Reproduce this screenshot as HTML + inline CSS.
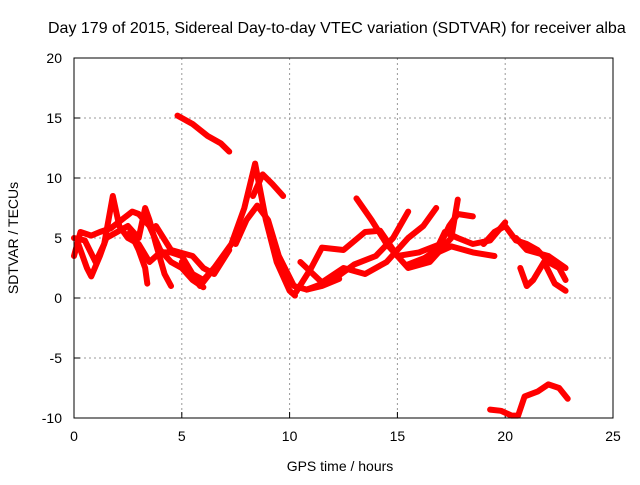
<!DOCTYPE html>
<html><head><meta charset="utf-8"><style>
body{margin:0;background:#fff}
svg text{font-family:"Liberation Sans",sans-serif;font-size:14px;fill:#000}
</style></head><body>
<svg id="chart" width="640" height="480">
<text x="48" y="33" style="font-size:16px">Day 179 of 2015, Sidereal Day-to-day VTEC variation (SDTVAR) for receiver alba</text>
<text x="340" y="471" text-anchor="middle">GPS time / hours</text>
<text transform="translate(18,238) rotate(-90)" text-anchor="middle">SDTVAR / TECUs</text>
<g id="grid"></g><g id="series"></g>
<rect x="74" y="58" width="539" height="360" fill="none" stroke="#000"/>
</svg>
<script>
const xTicks=[0,5,10,15,20,25];
const yTicks=[-10,-5,0,5,10,15,20];
const seriesTop=[[4.8,15.2],[5.5,14.5],[6.2,13.5],[6.8,12.9],[7.2,12.2]];
const seriesBottom=[[19.3,-9.3],[19.8,-9.4],[20.3,-9.8],[20.6,-9.8],[20.9,-8.2],[21.5,-7.8],[22.0,-7.2],[22.5,-7.5],[22.9,-8.4]];
const seriesPeakA=[[5.0,3.0],[5.85,1.0],[6.5,2.5],[7.3,4.5],[7.9,7.5],[8.4,11.2],[8.9,6.5],[9.4,3.0],[10.0,0.6],[10.25,0.2]];
const seriesPeakB=[[8.3,8.5],[8.75,10.3],[9.2,9.5],[9.7,8.5]];
const seriesPeakC=[[7.5,4.5],[8.0,6.5],[8.5,7.7],[9.0,6.5],[9.5,3.5],[10.2,1.0],[10.8,0.7],[11.5,1.0],[12.3,1.6]];
const seriesLeft1=[[0,3.5],[0.3,5.5],[0.8,5.2],[1.2,5.5],[1.7,5.8],[2.2,6.5],[2.7,7.2],[3.0,7.0],[3.5,6.0],[4.0,4.0],[4.5,3.0],[5.0,2.5],[5.5,1.5],[6.0,0.9]];
const seriesLeft2=[[0,5.0],[0.5,4.8],[1.0,3.0],[1.4,4.5],[1.8,8.5],[2.1,6.0],[2.5,5.0],[3.0,4.5],[3.5,3.0],[4.0,3.8],[4.5,3.8],[5.0,3.5],[5.5,2.0],[6.0,1.5],[6.5,2.5],[7.0,3.5]];
const seriesLeft3=[[0.2,4.5],[0.6,2.5],[0.8,1.8],[1.2,3.5],[1.5,5.0],[2.0,5.5],[2.5,6.0],[3.0,5.0],[3.3,7.5],[3.5,6.5],[3.8,4.5],[4.2,2.0],[4.5,1.0]];
const seriesLeft4=[[2.6,5.5],[3.0,4.0],[3.3,2.5],[3.4,1.2]];
const seriesLeft5=[[3.8,6.0],[4.5,4.0],[5.5,3.5],[6.0,2.5],[6.5,2.0],[7.2,4.0]];
const seriesMid1=[[10.3,0.5],[11.0,2.5],[11.5,4.2],[12.5,4.0],[13.5,5.5],[14.2,5.6],[15.0,3.5],[16.0,3.8],[17.0,4.5],[17.4,6.0],[17.8,7.0],[18.5,6.8]];
const seriesMid2=[[10.5,3.0],[11.5,1.3],[12.5,2.5],[13.5,2.0],[14.5,3.0],[15.5,5.0],[16.2,6.0],[16.8,7.5]];
const seriesMid3=[[13.1,8.3],[13.8,6.5],[14.5,4.5],[15.5,2.5],[16.5,3.0],[17.5,5.0],[17.8,8.2]];
const seriesMid4=[[10.8,0.7],[12.0,1.5],[13.0,2.8],[14.0,3.5],[14.8,5.0],[15.5,7.2]];
const seriesMid5=[[15.5,2.8],[16.5,3.5],[17.5,4.3],[18.5,3.8],[19.5,3.5]];
const seriesMid6=[[16.0,3.0],[16.8,4.0],[17.2,5.5],[17.8,5.0],[18.5,4.5],[19.3,4.8],[20.0,6.3]];
const seriesRight1=[[19.0,4.5],[19.5,5.5],[20.0,6.0],[20.5,4.8],[21.0,4.5],[21.5,4.0],[22.0,3.0],[22.5,2.5],[22.8,1.5]];
const seriesRight2=[[20.7,2.5],[21.0,1.0],[21.3,1.5],[21.8,3.0],[22.3,1.2],[22.8,0.6]];
const seriesRight3=[[20.5,5.0],[21.0,4.0],[22.0,3.5],[22.8,2.5]];
const allSeries=[seriesTop,seriesBottom,seriesPeakA,seriesPeakB,seriesPeakC,seriesLeft1,seriesLeft2,seriesLeft3,seriesLeft4,seriesLeft5,seriesMid1,seriesMid2,seriesMid3,seriesMid4,seriesMid5,seriesMid6,seriesRight1,seriesRight2,seriesRight3];
const X0=74,X1=613,Y0=418,Y1=58,xmin=0,xmax=25,ymin=-10,ymax=20;
const sx=v=>X0+(v-xmin)/(xmax-xmin)*(X1-X0);
const sy=v=>Y0-(v-ymin)/(ymax-ymin)*(Y0-Y1);
const NS="http://www.w3.org/2000/svg";
const grid=document.getElementById('grid'),ser=document.getElementById('series');
function mk(tag,attrs,parent){const e=document.createElementNS(NS,tag);for(const k in attrs)e.setAttribute(k,attrs[k]);parent.appendChild(e);return e;}
xTicks.forEach(t=>{
  const x=sx(t);
  if(t>xmin&&t<xmax){const g=mk('line',{x1:x,x2:x,y1:Y1,y2:Y0,stroke:'#999','stroke-dasharray':'2,3'},grid);
  
  }
  const tk=mk('line',{x1:x,x2:x,y1:Y0,y2:Y0-6,stroke:'#000'},grid);
  
  
  const tx=mk('text',{x:x,y:Y0+23,'text-anchor':'middle'},grid);tx.textContent=t;
  
  
});
yTicks.forEach(t=>{
  const y=sy(t);
  if(t>ymin&&t<ymax){const g=mk('line',{x1:X0,x2:X1,y1:y,y2:y,stroke:'#999','stroke-dasharray':'2,3'},grid);
  
  }
  const tk=mk('line',{x1:X0,x2:X0+6,y1:y,y2:y,stroke:'#000'},grid);
  
  
  const tx=mk('text',{x:X0-12,y:y+5,'text-anchor':'end'},grid);tx.textContent=t;
  
  
});
allSeries.forEach(s=>{
  const p=mk('polyline',{points:s.map(d=>sx(d[0])+','+sy(d[1])).join(' '),fill:'none',stroke:'#ff0000','stroke-width':6,'stroke-linejoin':'round','stroke-linecap':'round'},ser);
  
  
});
</script>
</body></html>
